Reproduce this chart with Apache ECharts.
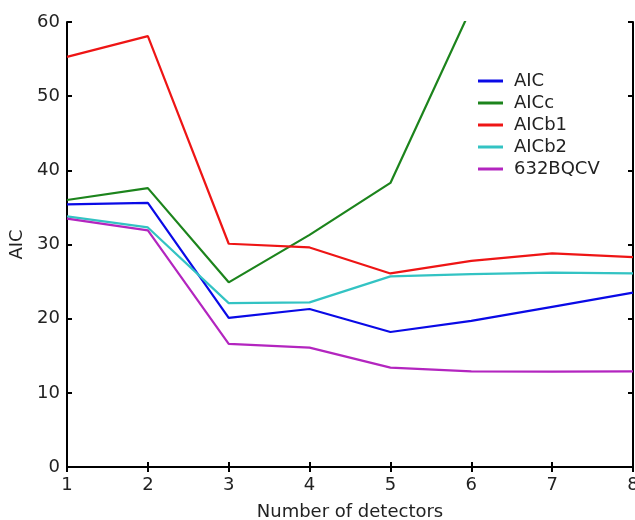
<!DOCTYPE html>
<html>
<head>
<meta charset="utf-8">
<script src="https://cdn.jsdelivr.net/npm/echarts@6/dist/echarts.min.js"></script>
<style>
html,body{margin:0;padding:0;background:#fff;}
#chart{width:635px;height:520px;}
</style>
</head>
<body>
<div id="chart"></div>
<script>
const detectors = [1, 2, 3, 4, 5, 6, 7, 8];
const seriesNames = ['AIC', 'AICc', 'AICb1', 'AICb2', '632BQCV'];
const aic     = [35.4, 35.6, 20.1, 21.3, 18.2, 19.7, 21.6, 23.5];
const aicc    = [36.0, 37.6, 24.9, 31.3, 38.3, 61.9, 95, 130];
const aicb1   = [55.3, 58.1, 30.1, 29.6, 26.1, 27.8, 28.8, 28.3];
const aicb2   = [33.8, 32.3, 22.1, 22.2, 25.7, 26.0, 26.2, 26.1];
const bqcv632 = [33.5, 31.9, 16.6, 16.1, 13.4, 12.9, 12.85, 12.9];
const yTicks  = [0, 10, 20, 30, 40, 50, 60];

const colors = ['#0a0ae6', '#1c841c', '#ee1515', '#33c3c3', '#b325bf'];
const allData = [aic, aicc, aicb1, aicb2, bqcv632];

const chart = echarts.init(document.getElementById('chart'), null, {renderer: 'canvas'});
const font = 'DejaVu Sans, Liberation Sans, Arial, sans-serif';
const axisLine = {show: true, lineStyle: {color: '#000', width: 2}};
const axisTick = {show: true, inside: true, length: 5, lineStyle: {color: '#000', width: 2}};

chart.setOption({
  animation: false,
  backgroundColor: '#fff',
  grid: {left: 67, right: 2, top: 22, bottom: 53, containLabel: false, outerBoundsMode: 'none'},
  legend: {
    orient: 'vertical',
    left: 473,
    top: 66,
    itemWidth: 25,
    itemHeight: 3,
    itemGap: 2,
    icon: 'rect',
    textStyle: {fontFamily: font, fontSize: 18, color: '#222', lineHeight: 20, padding: [0, 0, 0, 6]},
    data: seriesNames
  },
  xAxis: [{
    type: 'value', min: 1, max: 8, interval: 1,
    name: 'Number of detectors', nameLocation: 'middle', nameGap: 36,
    nameTextStyle: {fontFamily: font, fontSize: 18, color: '#222'},
    axisLine: axisLine, axisTick: axisTick,
    axisLabel: {fontFamily: font, fontSize: 18, color: '#222', margin: 9,
      formatter: v => String(detectors[v - 1])},
    splitLine: {show: false}
  }, {
    type: 'value', min: 1, max: 8, interval: 1, position: 'top',
    axisLine: axisLine, axisTick: axisTick, axisLabel: {show: false}, splitLine: {show: false}
  }],
  yAxis: [{
    type: 'value', min: yTicks[0], max: yTicks[yTicks.length - 1], interval: 10,
    name: 'AIC', nameLocation: 'middle', nameGap: 35, nameRotate: 90,
    nameTextStyle: {fontFamily: font, fontSize: 18, color: '#222'},
    axisLine: axisLine, axisTick: axisTick,
    axisLabel: {fontFamily: font, fontSize: 18, color: '#222', margin: 7},
    splitLine: {show: false}
  }, {
    type: 'value', min: yTicks[0], max: yTicks[yTicks.length - 1], interval: 10, position: 'right',
    axisLine: axisLine, axisTick: axisTick, axisLabel: {show: false}, splitLine: {show: false}
  }],
  series: seriesNames.map((n, i) => ({
    name: n,
    type: 'line',
    xAxisIndex: 0, yAxisIndex: 0,
    data: detectors.map((d, j) => [d, allData[i][j]]),
    showSymbol: false,
    symbol: 'none',
    clip: true,
    lineStyle: {color: colors[i], width: 2.2},
    itemStyle: {color: colors[i]}
  }))
});
</script>
</body>
</html>
